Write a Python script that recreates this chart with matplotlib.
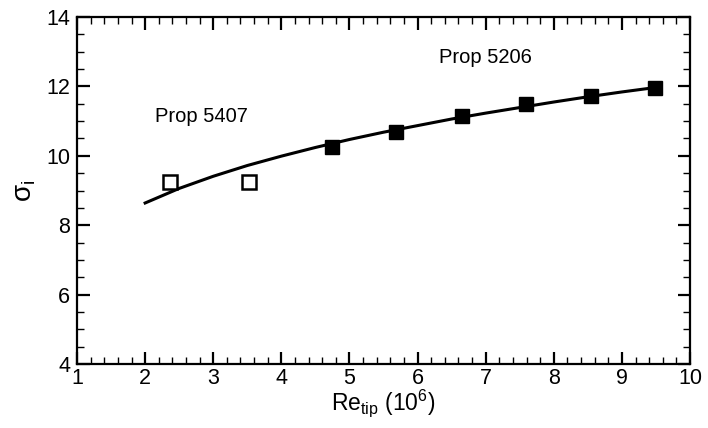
import numpy as np
import matplotlib
matplotlib.use("Agg")
import matplotlib.pyplot as plt
from matplotlib.ticker import MultipleLocator

plt.rcParams['font.family'] = ['Liberation Sans', 'DejaVu Sans']
plt.rcParams['mathtext.fontset'] = 'custom'
plt.rcParams['mathtext.rm'] = 'Liberation Sans'
plt.rcParams['mathtext.it'] = 'Liberation Sans:italic'

# Prop 5407 (open squares)
re_5407 = [2.37, 3.53]
sigma_5407 = [9.25, 9.25]

# Prop 5206 (filled squares)
re_5206 = [4.75, 5.68, 6.65, 7.59, 8.54, 9.48]
sigma_5206 = [10.25, 10.68, 11.16, 11.48, 11.71, 11.95]

# fitted trend curve
re_fit = [2.0, 2.5, 3.0, 3.5, 4.0, 4.5, 5.0, 5.5, 6.0, 6.5, 7.0, 7.5, 8.0, 8.5, 9.0, 9.5]
sigma_fit = [8.64, 9.06, 9.41, 9.72, 9.99, 10.24, 10.47, 10.68, 10.87,
             11.06, 11.23, 11.39, 11.55, 11.70, 11.84, 11.97]

fig = plt.figure(figsize=(7.08, 4.28), dpi=100)
ax = fig.add_axes([0.1088, 0.1495, 0.8658, 0.8108])

ax.plot(re_fit, sigma_fit, color='black', lw=2.2)
ax.plot(re_5407, sigma_5407, 's', ms=10, mfc='white', mec='black', mew=1.8)
ax.plot(re_5206, sigma_5206, 's', ms=10.5, mfc='black', mec='black')

ax.text(2.14, 11.12, 'Prop 5407', fontsize=14.5, ha='left', va='center')
ax.text(6.32, 12.82, 'Prop 5206', fontsize=14.5, ha='left', va='center')

ax.set_xlim(1, 10)
ax.set_ylim(4, 14)
ax.xaxis.set_major_locator(MultipleLocator(1))
ax.xaxis.set_minor_locator(MultipleLocator(0.2))
ax.yaxis.set_major_locator(MultipleLocator(2))
ax.yaxis.set_minor_locator(MultipleLocator(0.5))

for s in ax.spines.values():
    s.set_linewidth(1.6)
ax.tick_params(which='both', direction='in', top=True, right=True, labelsize=15.5)
ax.tick_params(which='major', length=9, width=1.6)
ax.tick_params(which='minor', length=5, width=1)
ax.tick_params(axis='x', pad=3)
ax.tick_params(axis='y', pad=5)

ax.set_xlabel(r'Re$_{\mathrm{tip}}$ (10$^{6}$)', fontsize=16.5, labelpad=-1)
ax.set_ylabel(r'$\mathrm{\sigma_{i}}$', fontsize=20, labelpad=6)

fig.savefig('out.png', dpi=100)
